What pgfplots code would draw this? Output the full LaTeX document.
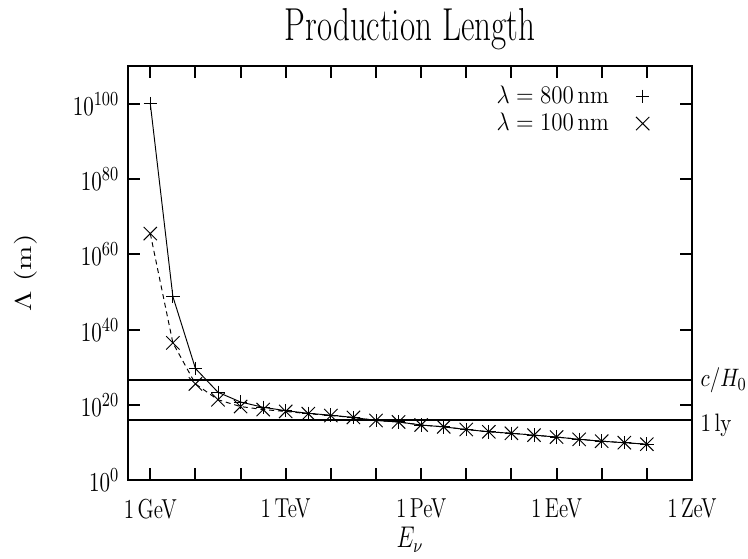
\documentclass[border=0pt]{standalone}
\usepackage{graphicx}
\usepackage{pgfplots}
\pgfplotsset{compat=1.18}
\begin{document}
\begin{tikzpicture}
\begin{axis}[
    at={(0pt,0pt)}, anchor=south west,
    scale only axis,
    width=294pt, height=216pt,
    xmode=log, ymode=log,
    xmin=0.32, xmax=1e12,
    ymin=1, ymax=1e110,
    xtick={1,1e3,1e6,1e9,1e12},
    xticklabels={1\,GeV,1\,TeV,1\,PeV,1\,EeV,1\,ZeV},
    minor xtick={10,100,1e4,1e5,1e7,1e8,1e10,1e11},
    ytick={1,1e20,1e40,1e60,1e80,1e100},
    tick align=inside,
    major tick length=6.5pt, minor tick length=6.5pt,
    every tick/.style={black, line width=1.1pt},
    axis line style={line width=1.1pt},
    tick label style={font=\fontsize{11}{13}\selectfont},
    xticklabel style={yscale=1.3, yshift=-4pt},
    yticklabel style={yscale=1.3, xshift=-1pt},
    title={\fontsize{17.2}{21}\selectfont Production Length},
    title style={at={(axis description cs:0.5,1)}, anchor=center, yshift=13pt, yscale=1.4},
    xlabel={\fontsize{12}{14}\selectfont$E_\nu$},
    xlabel style={at={(axis description cs:0.5,0)}, anchor=center, yshift=-31pt, yscale=1.3},
    ylabel={\scalebox{1.3}[1]{\fontsize{12}{14}\selectfont$\Lambda$ (m)}},
    ylabel style={at={(axis description cs:-0.182,0.5)}, anchor=center},
    legend style={draw=none, fill=none, at={(axis description cs:1,1)}, anchor=north east,
        xshift=-19pt, yshift=-6pt, row sep=-1pt, column sep=12pt,
        font=\fontsize{12.5}{14}\selectfont, nodes={yscale=1.1}},
    legend plot pos=right,
    legend cell align=right,
    every mark/.append style={yscale=1.35, line width=0.6pt},
    clip=false,
]
\addplot[black, line width=0.5pt, mark=+, mark size=3.5pt, forget plot] coordinates {
(1,1e100) (3.162,6.3e48) (10,5.0e29) (31.62,2.5e23) (100,6.3e20) (316.2,2.5e19)
(1e3,3.2e18) (3162,6.3e17) (1e4,2.0e17) (31623,5.0e16) (1e5,7.9e15) (316228,3.2e15)
(1e6,5.0e14) (3.162e6,1.6e14) (1e7,3.2e13) (3.162e7,7.9e12) (1e8,3.2e12) (3.162e8,1.0e12)
(1e9,3.2e11) (3.162e9,7.9e10) (1e10,2.5e10) (3.162e10,1.0e10) (1e11,4.0e9)
};
\addplot[black, line width=0.5pt, dash pattern=on 2.6pt off 2pt, mark=x, mark size=4.9pt, mark options={solid}, forget plot] coordinates {
(1,3.2e65) (3.162,3.2e36) (10,4.0e25) (31.62,2.5e21) (100,4.0e19) (316.2,6.3e18)
(1e3,2.0e18) (3162,5.0e17) (1e4,1.6e17) (31623,5.0e16) (1e5,7.9e15) (316228,3.2e15)
(1e6,5.0e14) (3.162e6,1.6e14) (1e7,3.2e13) (3.162e7,7.9e12) (1e8,3.2e12) (3.162e8,1.0e12)
(1e9,3.2e11) (3.162e9,7.9e10) (1e10,2.5e10) (3.162e10,1.0e10) (1e11,4.0e9)
};
\addlegendimage{black, only marks, mark=+, mark size=3.5pt, line width=0.5pt}
\addlegendentry{$\lambda = 800\,\mathrm{nm}$}
\addlegendimage{black, only marks, mark=x, mark size=4.9pt, line width=0.5pt}
\addlegendentry{$\lambda = 100\,\mathrm{nm}$}
% Hubble length and one light year
\addplot[black, line width=1.2pt, forget plot] coordinates {(0.32,4.4e26) (1e12,4.4e26)};
\addplot[black, line width=1.2pt, forget plot] coordinates {(0.32,9.46e15) (1e12,9.46e15)};
\node[anchor=west, yscale=1.2, xshift=1pt, font=\fontsize{11}{13}\selectfont] at (axis cs:1e12,4.4e26) {$c/H_0$};
\node[anchor=west, yscale=1.2, xshift=1pt, yshift=-2pt, font=\fontsize{11}{13}\selectfont] at (axis cs:1e12,9.46e15) {$1\,\mathrm{ly}$};
\end{axis}
\pgfresetboundingbox
\path (-66.7pt,-40.6pt) rectangle (323.2pt,250.4pt);
\end{tikzpicture}
\end{document}
